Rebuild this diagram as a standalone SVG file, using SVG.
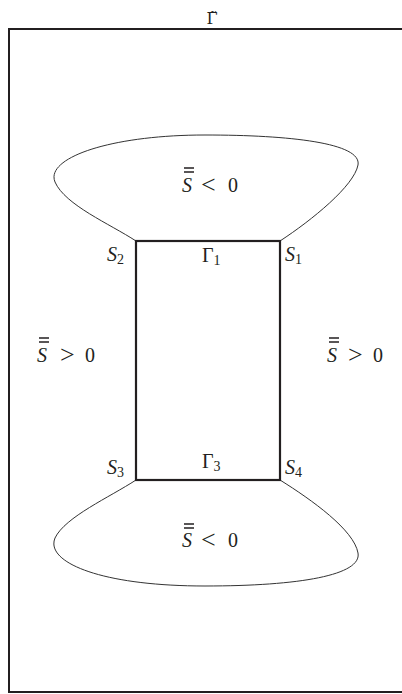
<svg xmlns="http://www.w3.org/2000/svg" width="402" height="694" viewBox="0 0 402 694">
<style>
.frame{fill:none;stroke:#231f20;stroke-width:2}
.box{fill:none;stroke:#231f20;stroke-width:2.2}
.loop{fill:none;stroke:#333;stroke-width:1}
.t{font-family:"Liberation Serif","DejaVu Serif",serif;font-size:20px;fill:#231f20}
.i{font-style:italic}
.sub{font-size:14px}
.rel{font-size:26px}
.ol{stroke:#231f20;stroke-width:1.4}
</style>
<rect width="402" height="694" fill="#fff"/>
<g id="frame">
<path class="frame" d="M9,693 V29 H403"/>
<path class="frame" d="M9,692 H403"/>
<text x="212" y="24" text-anchor="middle" style="font-family:'DejaVu Serif',serif;font-size:16px;fill:#231f20">Γ̃</text>
</g>
<g id="connectors">
<path class="loop" d="M136,241 C110,224 65,205 55,182 C45,158 110,135 205,135 C290,135 362,143 358,165 C354,186 312,220 280,241"/>
<path class="loop" d="M136,480 C110,497 65,517 55,538 C45,562 100,586 205,586 C300,586 362,575 358,553 C354,530 312,500 280,480"/>
</g>
<g id="gamma-box">
<rect class="box" x="136" y="241" width="144" height="239"/>
<text class="t" x="202" y="262">Γ<tspan class="sub" dy="3">1</tspan></text>
<text class="t" x="202" y="468">Γ<tspan class="sub" dy="3">3</tspan></text>
</g>
<g id="S1"><text class="t" x="285" y="261"><tspan class="i">S</tspan><tspan class="sub" dy="3">1</tspan></text></g>
<g id="S2"><text class="t" x="107" y="261"><tspan class="i">S</tspan><tspan class="sub" dy="3">2</tspan></text></g>
<g id="S3"><text class="t" x="107" y="474"><tspan class="i">S</tspan><tspan class="sub" dy="3">3</tspan></text></g>
<g id="S4"><text class="t" x="285" y="474"><tspan class="i">S</tspan><tspan class="sub" dy="3">4</tspan></text></g>
<g id="region-top">
<path class="ol" d="M184,168 H194 M184,172 H194"/>
<text class="t" y="192"><tspan class="i" x="182">S</tspan><tspan class="rel" x="201" dy="1">&lt;</tspan><tspan x="228" dy="-1">0</tspan></text>
</g>
<g id="region-bottom">
<path class="ol" d="M184,524 H194 M184,528 H194"/>
<text class="t" y="547"><tspan class="i" x="182">S</tspan><tspan class="rel" x="201" dy="1">&lt;</tspan><tspan x="228" dy="-1">0</tspan></text>
</g>
<g id="region-left">
<path class="ol" d="M39,338 H49 M39,342 H49"/>
<text class="t" y="362"><tspan class="i" x="37">S</tspan><tspan class="rel" x="60" dy="1">&gt;</tspan><tspan x="85" dy="-1">0</tspan></text>
</g>
<g id="region-right">
<path class="ol" d="M329,338 H339 M329,342 H339"/>
<text class="t" y="362"><tspan class="i" x="327">S</tspan><tspan class="rel" x="348" dy="1">&gt;</tspan><tspan x="373" dy="-1">0</tspan></text>
</g>
</svg>
